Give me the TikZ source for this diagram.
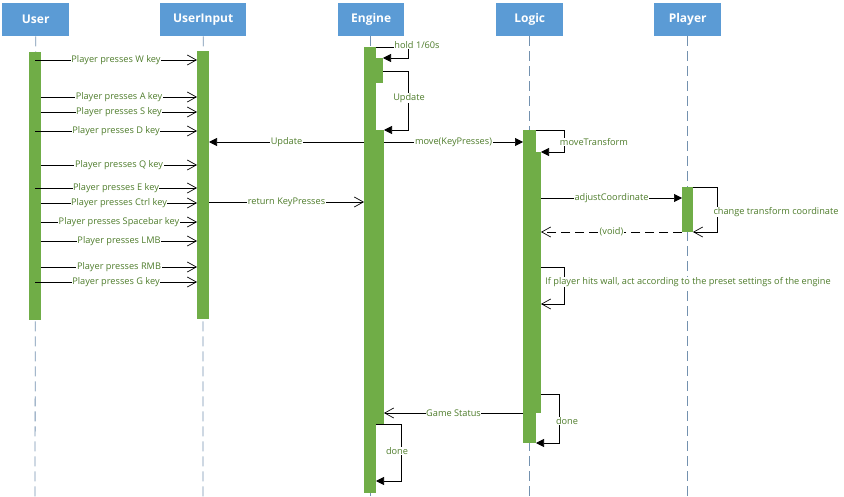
\documentclass[tikz,border=0pt]{standalone}
\usepackage{fontspec}
\setmainfont{Open Sans}
\usetikzlibrary{arrows.meta}

\definecolor{headblue}{HTML}{5B9BD5}
\definecolor{bargreen}{HTML}{70AD47}
\definecolor{lblgreen}{HTML}{4F7D2C}
\definecolor{lifegrey}{RGB}{115,145,175}

\tikzset{
  head/.style={fill=headblue, text=white, font=\fontsize{12}{14}\selectfont\bfseries,
               minimum height=33pt, inner sep=0pt, anchor=north west},
  life/.style={draw=lifegrey, line width=0.8pt, dash pattern=on 10pt off 5pt},
  actbar/.style={fill=bargreen, inner sep=0pt, anchor=north west, outer sep=0pt},
  msg/.style={draw=black, line width=0.7pt},
  lbl/.style={fill=white, text=lblgreen, font=\fontsize{9.2}{11}\selectfont, inner sep=0.6pt},
  call/.style={msg, -{Triangle[length=8pt,width=8pt]}},
  async/.style={msg, -{Straight Barb[length=9pt,width=10pt]}},
  reply/.style={async, dash pattern=on 9pt off 5pt}
}

\begin{document}
\begin{tikzpicture}[x=1pt,y=-1pt]
\useasboundingbox (0,0) rectangle (844,497);

% participants
\node[head, minimum width=67pt] (user)   at (2,3)   {User};
\node[head, minimum width=86pt] (input)  at (160,3) {UserInput};
\node[head, minimum width=66pt] (engine) at (338,3) {Engine};
\node[head, minimum width=67pt] (logic)  at (496,3) {Logic};
\node[head, minimum width=67pt] (player) at (654,3) {Player};

% lifeline ends
\coordinate (userend)   at (35,497);
\coordinate (inputend)  at (203,497);
\coordinate (engineend) at (370,497);
\coordinate (logicend)  at (529,497);
\coordinate (playerend) at (687.5,497);

\draw[life] (user.south)   -- (userend);
\draw[life] (input.south)  -- (inputend);
\draw[life] (engine.south -| engineend) -- (engineend);
\draw[life] (logic.south -| logicend)   -- (logicend);
\draw[life] (player.south -| playerend) -- (playerend);

% activation bars
\node[actbar, minimum width=12pt, minimum height=268pt] (ubar)  at (29,52)  {};
\node[actbar, minimum width=12pt, minimum height=268pt] (ibar)  at (197,51) {};
\node[actbar, minimum width=12pt, minimum height=446pt] (ebar)  at (364,47) {};
\node[actbar, minimum width=7pt,  minimum height=25pt]  (ehold) at (376,58) {};
\node[actbar, minimum width=8pt,  minimum height=294pt] (eupd)  at (376,130) {};
\node[actbar, minimum width=13pt, minimum height=313pt] (lbar)  at (523,130) {};
\node[actbar, minimum width=5pt,  minimum height=261pt] (lnest) at (536,152) {};
\node[actbar, minimum width=11pt, minimum height=45pt]  (pbar)  at (682,187) {};

% message levels
\coordinate (yW) at (0,60);   \coordinate (yA) at (0,97);
\coordinate (yS) at (0,112);  \coordinate (yD) at (0,131);
\coordinate (yQ) at (0,165);  \coordinate (yE) at (0,188);
\coordinate (yC) at (0,203);  \coordinate (ySp) at (0,222);
\coordinate (yL) at (0,241);  \coordinate (yR) at (0,267);
\coordinate (yG) at (0,282);
\coordinate (yUpd) at (0,142); \coordinate (yRet) at (0,202);
\coordinate (yU1) at (0,71);
\coordinate (yAdj) at (0,198); \coordinate (yVoid) at (0,232);
\coordinate (yWall) at (0,267); \coordinate (yWall2) at (0,304);
\coordinate (yGS) at (0,413); \coordinate (yLd) at (0,394);
\coordinate (yEd) at (0,424); \coordinate (yEd2) at (0,481);

% key presses from the user
\draw[async] (ubar.center |- yW) -- (ibar.west |- yW) node[lbl, midway] {Player presses W key};
\draw[async] (ubar.east |- yA)   -- (ibar.west |- yA) node[lbl, midway] {Player presses A key};
\draw[async] (ubar.east |- yS)   -- (ibar.west |- yS) node[lbl, midway] {Player presses S key};
\draw[async] (ubar.center |- yD) -- (ibar.west |- yD) node[lbl, midway] {Player presses D key};
\draw[async] (ubar.east |- yQ)   -- (ibar.west |- yQ) node[lbl, midway] {Player presses Q key};
\draw[async] (ubar.center |- yE) -- (ibar.west |- yE) node[lbl, midway] {Player presses E key};
\draw[async] (ubar.east |- yC)   -- (ibar.west |- yC) node[lbl, midway] {Player presses Ctrl key};
\draw[async] (ubar.east |- ySp)  -- (ibar.west |- ySp) node[lbl, midway] {Player presses Spacebar key};
\draw[async] (ubar.east |- yL)   -- (ibar.west |- yL) node[lbl, midway] {Player presses LMB};
\draw[async] (ubar.east |- yR)   -- (ibar.west |- yR) node[lbl, midway] {Player presses RMB};
\draw[async] (ubar.center |- yG) -- (ibar.west |- yG) node[lbl, midway] {Player presses G key};

% engine loop
\draw[call] (ebar.north east) -- ++(32,0) |- (ehold.north east);
\node[lbl] (holdlbl) at (417,45) {hold 1/60s};
\draw[call] (ehold.east |- yU1) -- ++(25,0) |- (eupd.north east);
\node[lbl] (updlbl) at (409,98) {Update};

\draw[call] (ebar.west |- yUpd) -- (ibar.east |- yUpd) node[lbl, midway] {Update};
\draw[call] (eupd.east |- yUpd) -- (lbar.west |- yUpd) node[lbl, midway] {move(KeyPresses)};
\draw[async] (ibar.east |- yRet) -- (ebar.west |- yRet) node[lbl, midway] {return KeyPresses};

% logic
\draw[call] (lbar.north east) -- ++(28,0) |- (lnest.north east);
\node[lbl] (mtlbl) at (594,142) {moveTransform};
\draw[call] (lnest.east |- yAdj) -- (pbar.west |- yAdj) node[lbl, midway] {adjustCoordinate};
\draw[async] (pbar.north east) -- ++(24,0) |- (pbar.south east);
\node[lbl] (ctlbl) at (776,212) {change transform coordinate};
\draw[reply] (pbar.west |- yVoid) -- (lnest.east |- yVoid) node[lbl, midway] {(void)};
\draw[async] (lnest.east |- yWall) -- ++(23,0) |- (lnest.east |- yWall2);
\node[lbl] (walllbl) at (688,282) {If player hits wall, act according to the preset settings of the engine};

\draw[async] (lbar.west |- yGS) -- (eupd.east |- yGS) node[lbl, midway] {Game Status};
\draw[call] (lnest.east |- yLd) -- ++(18,0) |- (lbar.south east);
\node[lbl] (ldlbl) at (567,421) {done};

\draw[call] (ebar.east |- yEd) -- ++(25,0) |- (ebar.east |- yEd2);
\node[lbl] (edlbl) at (397,451) {done};
\end{tikzpicture}
\end{document}
